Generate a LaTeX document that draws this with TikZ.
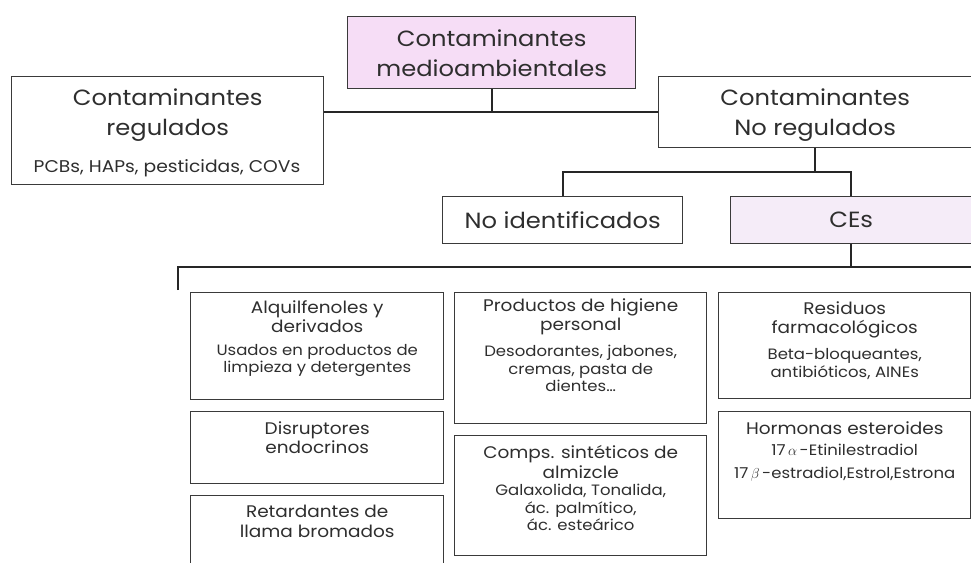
\documentclass[tikz,border=0pt]{standalone}
\usepackage{fontspec}
\setmainfont{Poppins}[FakeStretch=1.1]
\definecolor{txt}{HTML}{2E2E2E}
\definecolor{edge}{HTML}{3A3A3A}
\definecolor{pinkfill}{HTML}{F6DDF6}
\definecolor{lavfill}{HTML}{F5ECF8}
\begin{document}
\begin{tikzpicture}[x=1pt,y=-1pt,
  box/.style={draw=edge, line width=1.4pt, inner sep=0pt, anchor=north west},
  big/.style={font=\fontsize{22}{30}\selectfont, text=txt, align=center},
  mid/.style={font=\fontsize{16.8}{19.5}\selectfont, text=txt, align=center, anchor=north},
  small/.style={font=\fontsize{15}{17.5}\selectfont, text=txt, align=center, anchor=north},
  link/.style={draw=black!85, line width=2pt}]
\useasboundingbox (0,0) rectangle (971,562);
\begin{scope}
\clip (0,0) rectangle (971,562);
% level 1
\node[box, fill=pinkfill, minimum width=288pt, minimum height=72pt] (top) at (347,16) {};
\node[big] at ([yshift=-1pt]top.center) {Contaminantes\\medioambientales};
\node[box, minimum width=312pt, minimum height=108pt] (reg) at (11,76) {};
\node[big, anchor=north] at ([yshift=-9pt]reg.north) {Contaminantes\\regulados};
\node[font=\fontsize{17}{20}\selectfont, text=txt] at (167,168) {PCBs, HAPs, pesticidas, COVs};
\node[box, minimum width=313pt, minimum height=71pt] (noreg) at (658,76) {};
\node[big] at ([yshift=-3pt]noreg.center) {Contaminantes\\No regulados};
% level 2
\node[box, minimum width=240pt, minimum height=47pt] (noid) at (442,196) {};
\node[big] at (noid.center) {No identificados};
\node[box, fill=lavfill, minimum width=241pt, minimum height=47pt] (ces) at (730,196) {};
\node[big] at (ces.center) {CEs};
% level 3 boxes
\node[box, minimum width=253pt, minimum height=107pt] (alq) at (190,292) {};
\node[mid] (alqt) at ([yshift=-5pt]alq.north) {Alquilfenoles y\\derivados};
\node[small] at ([yshift=-4pt]alqt.south) {Usados en productos de\\limpieza y detergentes};
\node[box, minimum width=253pt, minimum height=72pt] (dis) at (190,411) {};
\node[mid] at ([yshift=-7pt]dis.north) {Disruptores\\endocrinos};
\node[box, minimum width=253pt, minimum height=110pt] (ret) at (190,495) {};
\node[mid] at ([yshift=-7pt]ret.north) {Retardantes de\\llama bromados};
\node[box, minimum width=252pt, minimum height=131pt] (prod) at (454,292) {};
\node[mid] (prodt) at ([yshift=-3pt]prod.north) {Productos de higiene\\personal};
\node[small] at ([yshift=-3pt]prodt.south) {Desodorantes, jabones,\\cremas, pasta de\\dientes\dots};
\node[box, minimum width=252pt, minimum height=120pt] (comp) at (454,435) {};
\node[mid] (compt) at ([yshift=-7pt]comp.north) {Comps. sint\'eticos de\\almizcle};
\node[small] at ([yshift=1pt]compt.south) {Galaxolida, Tonalida,\\\'ac. palm\'itico,\\\'ac. este\'arico};
\node[box, minimum width=252pt, minimum height=106pt] (res) at (718,292) {};
\node[mid] (rest) at ([yshift=-6pt]res.north) {Residuos\\farmacol\'ogicos};
\node[small] at ([yshift=-3pt]rest.south) {Beta-bloqueantes,\\antibi\'oticos, AINEs};
\node[box, minimum width=252pt, minimum height=107pt] (hor) at (718,411) {};
\node[mid] (hort) at ([yshift=-7pt]hor.north) {Hormonas esteroides};
\node[small, font=\fontsize{15}{23}\selectfont] at ([yshift=-3pt]hort.south) {17\,$\alpha$\,-Etinilestradiol\\17\,$\beta$\,-estradiol,Estrol,Estrona};
% connectors
\coordinate (j1) at (top.south |- noreg.west);
\draw[link] (top.south) -- (j1);
\draw[link] (reg.east |- noreg.west) -- (noreg.west);
\coordinate (j2) at (noreg.south |- 0,172);
\draw[link] (noreg.south) -- (j2);
\draw[link] (noid.north) |- (j2) -| (ces.north);
\coordinate (j3) at (ces.south |- 0,267);
\coordinate (rightend) at (971,267);
\coordinate (leftend) at (178,267);
\coordinate (lefttick) at (178,290);
\draw[link] (ces.south) -- (j3);
\draw[link] (lefttick) -- (leftend) -- (rightend);
\end{scope}
\end{tikzpicture}
\end{document}
